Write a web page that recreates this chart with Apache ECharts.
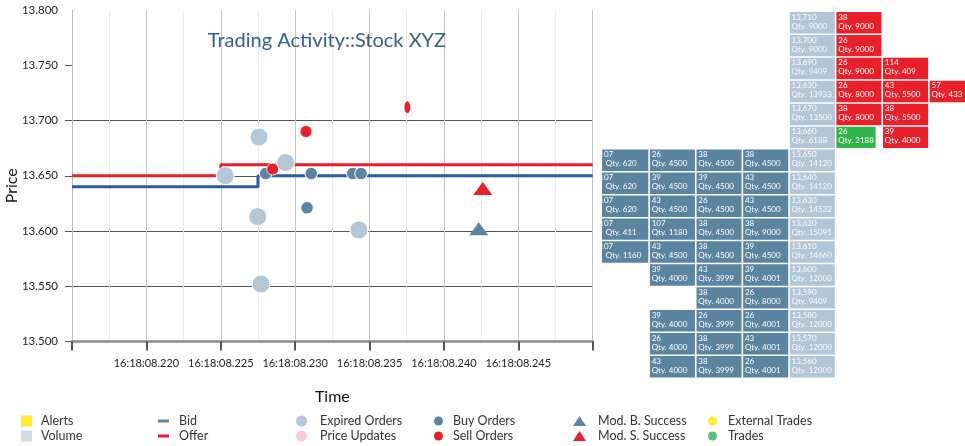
<!DOCTYPE html>
<html><head><meta charset="utf-8">
<script src="https://cdn.jsdelivr.net/npm/echarts@6/dist/echarts.min.js"></script>
<style>html,body{margin:0;padding:0;background:#fff}#c{width:965px;height:446px}</style>
</head><body><div id="c"></div>
<script>
// ---------------- data ----------------
// time values are milliseconds after 16:18:08
const timeTickLabels = ['', '16:18:08.220', '16:18:08.225', '16:18:08.230', '16:18:08.235', '16:18:08.240', '16:18:08.245', ''];
const priceTickLabels = ['13.500', '13.550', '13.600', '13.650', '13.700', '13.750', '13.800'];

const offerLine = [[215, 13.650], [225.0, 13.660], [250, 13.660]];
const bidLine = [[215, 13.640], [227.5, 13.650], [250, 13.650]];
const expiredOrders = [[225.30, 13.650], [227.57, 13.685], [227.48, 13.613], [227.70, 13.552], [229.36, 13.662], [234.29, 13.601]];
const buyOrders = [[228.02, 13.652], [231.08, 13.652], [233.87, 13.652], [234.43, 13.652], [230.80, 13.621]];
const sellOrders = [[228.49, 13.656], [230.73, 13.690], [237.54, 13.712]];
const modBuySuccess = [[242.34, 13.602]];
const modSellSuccess = [[242.61, 13.6385]];

// order book (top to bottom)
const bookPrices = ['13,710', '13,700', '13,690', '13,630', '13,670', '13,660', '13,650', '13,640', '13,630', '13,620', '13,610', '13,600', '13,590', '13,580', '13,570', '13,560'];
const bookVolumes = [9000, 9000, 9409, 13933, 13500, 6188, 14120, 14120, 14532, 15091, 14660, 12000, 9409, 12000, 12000, 12000];
const askOrders = [
  [[38, 9000]],
  [[26, 9000]],
  [[26, 9000], [114, 409]],
  [[26, 8000], [43, 5500], [57, 433]],
  [[38, 8000], [38, 5500]],
  [[26, 2188, 'trade'], [39, 4000]],
  [], [], [], [], [], [], [], [], [], []
];
const bidOrders = [
  [], [], [], [], [], [],
  [[107, 620], [26, 4500], [38, 4500], [38, 4500]],
  [[107, 620], [39, 4500], [39, 4500], [43, 4500]],
  [[107, 620], [43, 4500], [26, 4500], [43, 4500]],
  [[107, 411], [107, 1180], [38, 4500], [38, 9000]],
  [[107, 1160], [43, 4500], [38, 4500], [39, 4500]],
  [[39, 4000], [43, 3999], [39, 4001]],
  [[38, 4000], [26, 8000]],
  [[39, 4000], [26, 3999], [26, 4001]],
  [[26, 4000], [38, 3999], [43, 4001]],
  [[43, 4000], [38, 3999], [26, 4001]]
];

// ---------------- build ----------------
const FONT = 'Lato, "Noto Sans", sans-serif';
const PRICE_COL = 4;
const cells = [];
bookPrices.forEach((p, r) => {
  cells.push({ value: [PRICE_COL, r], l1: p, l2: 'Qty. ' + bookVolumes[r], kind: 'price' });
  const asks = askOrders[r];
  asks.forEach((o, j) => cells.push({ value: [PRICE_COL + 1 + j, r], l1: String(o[0]), l2: 'Qty. ' + o[1], kind: o[2] === 'trade' ? 'trade' : 'ask' }));
  const bids = bidOrders[r];
  bids.forEach((o, j) => cells.push({ value: [PRICE_COL - bids.length + j, r], l1: String(o[0]), l2: 'Qty. ' + o[1], kind: 'bid' }));
});
const cellColors = { price: '#b3c6d6', ask: '#e9202a', trade: '#2fb34b', bid: '#5b84a0' };

function renderCell(params, api) {
  const c = cells[params.dataIndex];
  const col = api.value(0), row = api.value(1);
  const p = api.coord([col, row]);
  const s = api.size([1, 1]);
  let x = p[0], y = p[1];
  let w = s[0] - 1.6, h = s[1] - 1.5;
  let t1x = x + 1.8, t2x = x + 1.8;
  if (c.kind === 'trade') w = w * 0.87;
  if (col === 0) { x -= 8; w += 8; t1x = p[0] - 4; t2x = p[0] + 2.5; }
  const txtColor = c.kind === 'price' ? 'rgba(255,255,255,0.95)' : '#fff';
  return {
    type: 'group',
    children: [
      { type: 'rect', shape: { x: x, y: y, width: w, height: h }, style: { fill: cellColors[c.kind] } },
      { type: 'text', style: { x: t1x, y: y + 5, text: c.l1, fill: txtColor, font: '8px ' + FONT, verticalAlign: 'middle', align: 'left' } },
      { type: 'text', style: { x: t2x, y: y + 14, text: c.l2, fill: txtColor, font: '8px ' + FONT, verticalAlign: 'middle', align: 'left' } }
    ]
  };
}

const legendText = { fontFamily: FONT, fontSize: 12.5, color: '#333', lineHeight: 15 };
function legendCol(left, names, icon, w, h, pad, colors) {
  return {
    orient: 'vertical', left: left, top: 413.5, padding: 0, itemGap: 0,
    itemWidth: w, itemHeight: h, selectedMode: false,
    textStyle: Object.assign({ padding: [0, 0, 0, pad] }, legendText),
    data: names.map((n, i) => ({ name: n, icon: icon, itemStyle: { color: colors[i], borderWidth: 0 } }))
  };
}

const chart = echarts.init(document.getElementById('c'), null, { renderer: 'canvas' });
chart.setOption({
  animation: false,
  backgroundColor: '#fff',
  title: {
    text: 'Trading Activity::Stock XYZ', left: 322, top: 26, textAlign: 'center',
    textStyle: { fontFamily: FONT, fontSize: 20, fontWeight: 'normal', color: '#346283' }
  },
  legend: [
    legendCol(21, ['Alerts', 'Volume'], 'rect', 11, 11, 4, ['#ffe600', '#c4d3df']),
    legendCol(158, ['Bid', 'Offer'], 'rect', 11, 3, 5, ['#5b87a3', '#e9202a']),
    legendCol(296, ['Expired Orders', 'Price Updates'], 'circle', 11, 11, 8, ['#b4c7d7', '#f7bdcb']),
    legendCol(434, ['Buy Orders', 'Sell Orders'], 'circle', 9, 9, 5, ['#5b84a0', '#e9202a']),
    legendCol(573, ['Mod. B. Success', 'Mod. S. Success'], 'triangle', 13, 10, 7, ['#5b84a0', '#e9202a']),
    legendCol(708, ['External Trades', 'Trades'], 'circle', 9, 9, 6, ['#ffe600', '#2fb34b'])
  ],
  grid: [
    { left: 72, top: 10, width: 520.7, height: 331.5, containLabel: false, outerBoundsMode: 'none' },
    { left: 602.5, top: 12, width: 362.5, height: 366.9, containLabel: false, outerBoundsMode: 'none' }
  ],
  xAxis: [
    {
      gridIndex: 0, type: 'value', min: 215, max: 250, interval: 5,
      name: 'Time', nameLocation: 'middle', nameGap: 47, nameMoveOverlap: false,
      nameTextStyle: { fontFamily: FONT, fontSize: 16, color: '#111' },
      axisLine: { show: true, onZero: false, lineStyle: { color: '#8c8c8c', width: 2.5 } },
      axisTick: { show: true, length: 9, lineStyle: { color: '#555', width: 2 } },
      axisLabel: { formatter: (v, i) => timeTickLabels[i], margin: 16, fontFamily: FONT, fontSize: 11, color: '#222' },
      splitLine: { show: true, lineStyle: { color: '#c4c4c4', width: 1 } },
      minorTick: { show: false, splitNumber: 2 },
      minorSplitLine: { show: true, lineStyle: { color: '#ebebeb', width: 1 } }
    },
    { gridIndex: 1, type: 'value', min: -0.017, max: 7.757, show: false }
  ],
  yAxis: [
    {
      gridIndex: 0, type: 'value', min: 13.5, max: 13.8, interval: 0.05,
      name: 'Price', nameLocation: 'middle', nameGap: 52, nameMoveOverlap: false,
      nameTextStyle: { fontFamily: FONT, fontSize: 16, color: '#111', padding: [0, 20, 0, 0] },
      axisLine: { show: true, lineStyle: { color: '#bdbdbd', width: 1 } },
      axisTick: { show: true, length: 7, lineStyle: { color: '#555', width: 1 }, customValues: [13.5, 13.55, 13.6, 13.65, 13.7, 13.75] },
      axisLabel: { formatter: (v, i) => priceTickLabels[i], margin: 14, fontFamily: FONT, fontSize: 11.5, color: '#222' },
      splitLine: { show: true, showMaxLine: false, lineStyle: { color: '#555', width: 1 } }
    },
    { gridIndex: 1, type: 'value', min: 0, max: 16, inverse: true, show: false }
  ],
  series: [
    { name: 'Alerts', type: 'scatter', data: [], itemStyle: { color: '#ffe600' } },
    { name: 'Volume', type: 'scatter', data: [], itemStyle: { color: '#c4d3df' } },
    { name: 'Price Updates', type: 'scatter', data: [], itemStyle: { color: '#f7bdcb' } },
    { name: 'External Trades', type: 'scatter', data: [], itemStyle: { color: '#ffe600' } },
    { name: 'Trades', type: 'scatter', data: [], itemStyle: { color: '#2fb34b' } },
    {
      name: 'Bid', type: 'line', step: 'end', data: bidLine, showSymbol: false, z: 3,
      itemStyle: { color: '#5b87a3' }, lineStyle: { color: '#2b5aa6', width: 3 }
    },
    {
      name: 'Offer', type: 'line', step: 'end', data: offerLine, showSymbol: false, z: 3,
      itemStyle: { color: '#e9202a' }, lineStyle: { color: '#e9202a', width: 3 }
    },
    {
      name: 'Expired Orders', type: 'scatter', data: expiredOrders, symbolSize: 18, z: 4,
      itemStyle: { color: '#b4c7d7', opacity: 1, borderColor: '#fff', borderWidth: 1 }
    },
    {
      name: 'Buy Orders', type: 'scatter', data: buyOrders, symbolSize: 12.5, z: 5,
      itemStyle: { color: '#5b84a0', opacity: 1, borderColor: '#fff', borderWidth: 1 }
    },
    {
      name: 'Sell Orders', type: 'scatter', data: sellOrders, z: 5,
      symbolSize: (v, p) => p.dataIndex === 2 ? [6.5, 13] : 12,
      itemStyle: { color: '#e9202a', opacity: 1, borderColor: '#fff', borderWidth: 0.8 }
    },
    {
      name: 'Mod. B. Success', type: 'scatter', symbol: 'triangle', data: modBuySuccess, symbolSize: [19, 13], z: 5,
      itemStyle: { color: '#5b84a0', opacity: 1 }
    },
    {
      name: 'Mod. S. Success', type: 'scatter', symbol: 'triangle', data: modSellSuccess, symbolSize: [19, 13], z: 5,
      itemStyle: { color: '#e9202a', opacity: 1 }
    },
    {
      name: 'Order Book', type: 'custom', xAxisIndex: 1, yAxisIndex: 1, clip: true,
      renderItem: renderCell, data: cells.map(c => c.value)
    }
  ]
});
</script>
</body></html>
